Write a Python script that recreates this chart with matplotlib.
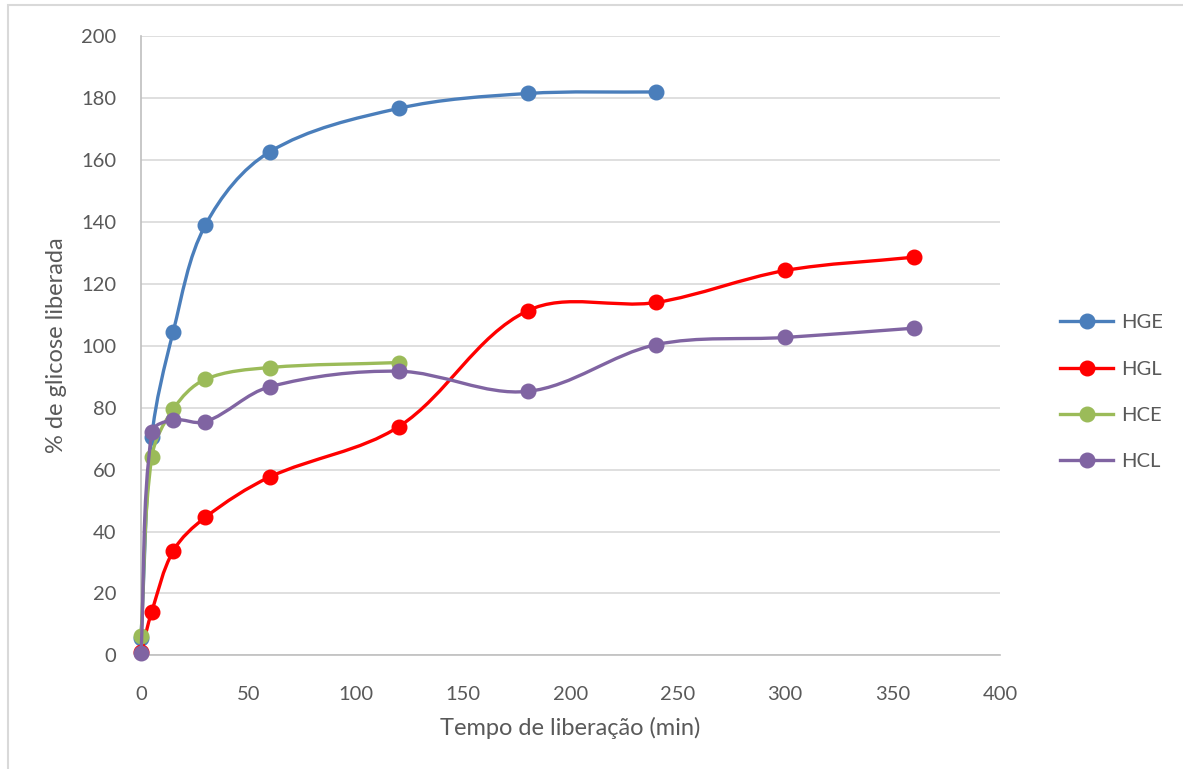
import matplotlib
matplotlib.use('Agg')
import matplotlib.pyplot as plt
from matplotlib.path import Path
from matplotlib.patches import PathPatch, Rectangle
from matplotlib.lines import Line2D
import numpy as np

plt.rcParams['font.family'] = ['Lato', 'DejaVu Sans']

# Data
hge_t = [0, 5, 15, 30, 60, 120, 180, 240]
hge_y = [5.5, 70.5, 104.5, 138.9, 162.5, 176.5, 181.3, 181.8]

hgl_t = [0, 5, 15, 30, 60, 120, 180, 240, 300, 360]
hgl_y = [1.0, 14.1, 33.7, 44.6, 57.6, 73.8, 111.2, 113.9, 124.2, 128.5]

hce_t = [0, 5, 15, 30, 60, 120]
hce_y = [6.3, 63.9, 79.5, 89.1, 92.9, 94.5]

hcl_t = [0, 5, 15, 30, 60, 120, 180, 240, 300, 360]
hcl_y = [0.9, 72.0, 76.0, 75.4, 86.7, 91.7, 85.2, 100.3, 102.6, 105.6]

series = [
    ('HGE', hge_t, hge_y, '#4a7ebb'),
    ('HGL', hgl_t, hgl_y, '#ff0000'),
    ('HCE', hce_t, hce_y, '#9bbb59'),
    ('HCL', hcl_t, hcl_y, '#8064a2'),
]

TEXT = '#595959'
# rough pixel size of one data unit, so the smoothing works in screen space
SX, SY = 2.1475, 3.099


def smooth_path(xs, ys):
    # Excel style smoothed line: bezier segments, tangents scaled by chord length
    pts = np.column_stack([np.asarray(xs) * SX, np.asarray(ys) * SY]).astype(float)
    n = len(pts)
    tang = []
    for i in range(n):
        p0 = pts[max(i - 1, 0)]
        p2 = pts[min(i + 1, n - 1)]
        d = p2 - p0
        norm = np.hypot(*d)
        tang.append(d / norm if norm > 0 else d)
    verts = [pts[0]]
    codes = [Path.MOVETO]
    for i in range(n - 1):
        p1, p2 = pts[i], pts[i + 1]
        L = np.hypot(*(p2 - p1)) / 3.0
        c1 = p1 + tang[i] * L
        c2 = p2 - tang[i + 1] * L
        verts += [c1, c2, p2]
        codes += [Path.CURVE4] * 3
    verts = np.array(verts) / [SX, SY]
    return Path(verts, codes)


fig = plt.figure(figsize=(11.83, 7.69), dpi=100)
ax = fig.add_axes([0.1192, 0.1476, 0.7261, 0.8062])

for i, (name, t, y, color) in enumerate(series):
    patch = PathPatch(smooth_path(t, y), facecolor='none', edgecolor=color,
                      lw=2.4, capstyle='round', joinstyle='round', zorder=2 + i)
    patch.set_clip_on(False)
    ax.add_patch(patch)
    ax.plot(t, y, linestyle='none', marker='o', markersize=10.5,
            color=color, zorder=2 + i, clip_on=False)

ax.set_xlim(0, 400)
ax.set_ylim(0, 200)
ax.set_xticks(np.arange(0, 401, 50))
ax.set_yticks(np.arange(0, 201, 20))
ax.tick_params(length=0, labelsize=14.5, labelcolor=TEXT)
ax.tick_params(axis='x', pad=22)
ax.tick_params(axis='y', pad=18)
ax.grid(axis='y', color='#d9d9d9', lw=1.2)
ax.set_axisbelow(True)
for side in ('top', 'right'):
    ax.spines[side].set_visible(False)
for side in ('left', 'bottom'):
    ax.spines[side].set_color('#bfbfbf')
    ax.spines[side].set_linewidth(1.2)

ax.set_xlabel('Tempo de liberação (min)', fontsize=17, color=TEXT, labelpad=10)
ax.set_ylabel('% de glicose liberada', fontsize=17, color=TEXT, labelpad=10)

handles = [Line2D([], [], color=c, lw=2.4, marker='o', markersize=10.5)
           for _, _, _, c in series]
fig.legend(handles, [s[0] for s in series], loc='center left',
           bbox_to_anchor=(0.881, 0.49), frameon=False, fontsize=14.5,
           labelcolor=TEXT, handlelength=2.6, labelspacing=1.45,
           handletextpad=0.4)

# outer chart border (partly cut off in the reference)
fig.patches.append(Rectangle((0.0065, -0.05), 1.1, 1.043, transform=fig.transFigure,
                             fill=False, edgecolor='#d9d9d9', lw=1.5))

fig.savefig('out.png', dpi=100)
